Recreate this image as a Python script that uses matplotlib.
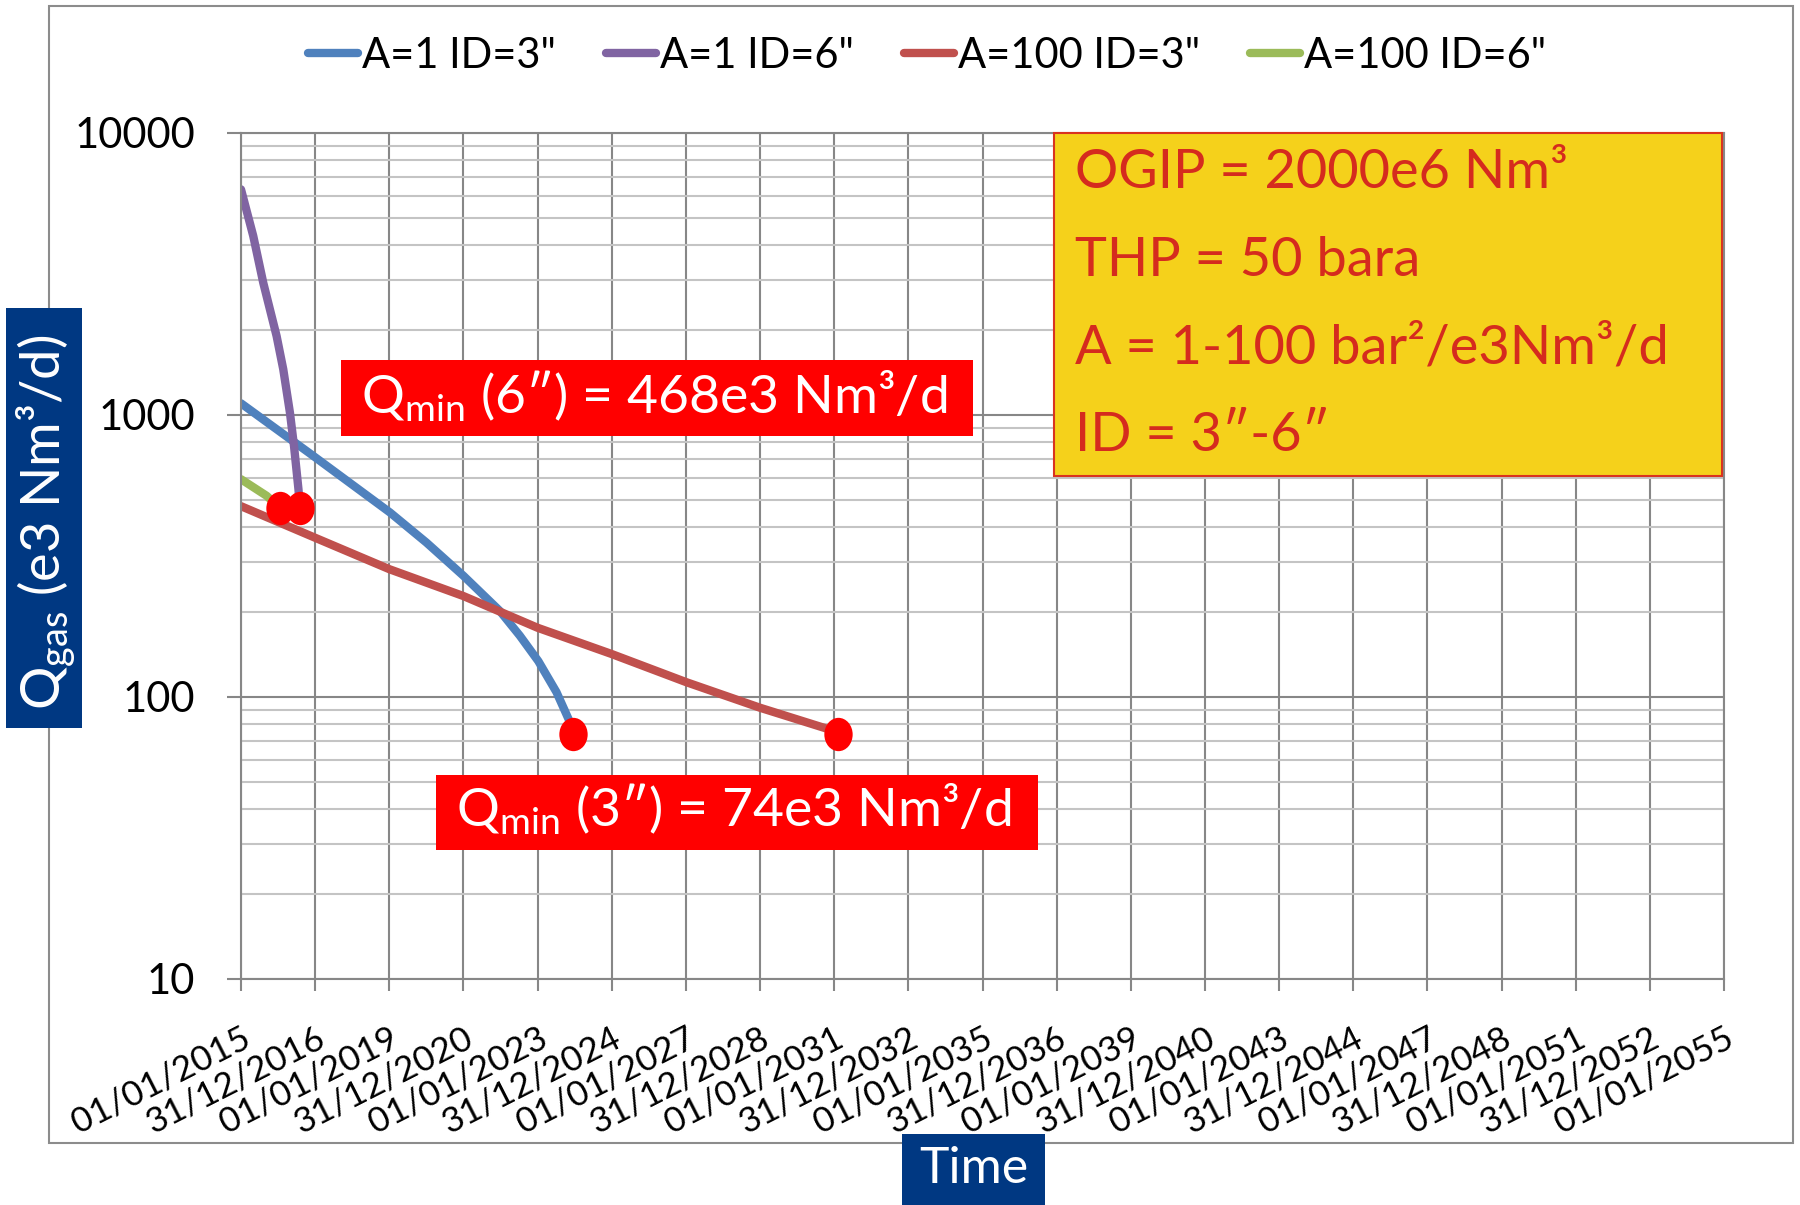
import matplotlib
matplotlib.use('Agg')
import matplotlib.pyplot as plt
from matplotlib.patches import Rectangle
from matplotlib.markers import MarkerStyle
from matplotlib.transforms import Affine2D
from matplotlib.ticker import NullFormatter
import numpy as np

plt.rcParams['font.family'] = ['Lato', 'DejaVu Sans']
plt.rcParams['mathtext.fontset'] = 'custom'
plt.rcParams['mathtext.rm'] = 'Lato'
plt.rcParams['mathtext.fallback'] = 'stixsans'

W, H = 1800, 1205

# time in years from 01/01/2015, rate in e3 Nm3/d
a1_id3_t = [0, 1.95, 4.02, 5.0, 6.0, 6.98, 7.52, 8.02, 8.51, 8.88, 8.96]
a1_id3_q = [1100, 716, 451, 353, 269, 202, 165, 134, 104, 81, 77]
a1_id6_t = [0, 0.33, 0.60, 0.96, 1.14, 1.32, 1.43, 1.55, 1.59]
a1_id6_q = [6310, 4315, 2944, 1906, 1452, 1019, 776, 545, 468]
a100_id3_t = [0, 2, 4, 6, 8, 10, 12, 14, 15.9]
a100_id3_q = [475, 367, 284, 228, 176, 142, 113, 91.6, 76.5]
a100_id6_t = [0, 0.69, 1.05]
a100_id6_q = [592, 517, 468]

# minimum rate reached for each tubing size
qmin_t = [1.05, 1.59, 8.96, 16.1]
qmin_q = [468, 468, 74, 74]

series_names = ['A=1 ID=3"', 'A=1 ID=6"', 'A=100 ID=3"', 'A=100 ID=6"']
series_colors = ['#4F81BD', '#8064A2', '#C0504D', '#9BBB59']

xtick_pos = np.arange(0, 41, 2)
xtick_labels = ['01/01/2015', '31/12/2016', '01/01/2019', '31/12/2020',
                '01/01/2023', '31/12/2024', '01/01/2027', '31/12/2028',
                '01/01/2031', '31/12/2032', '01/01/2035', '31/12/2036',
                '01/01/2039', '31/12/2040', '01/01/2043', '31/12/2044',
                '01/01/2047', '31/12/2048', '01/01/2051', '31/12/2052',
                '01/01/2055']
ytick_pos = [10, 100, 1000, 10000]
ytick_labels = ['10', '100', '1000', '10000']

info_lines = ['OGIP = 2000e6 Nm³', 'THP = 50 bara',
              'A = 1-100 bar²/e3Nm³/d', 'ID = 3″-6″']


def fx(px):
    return px / W


def fy(py):
    return 1 - py / H


fig = plt.figure(figsize=(W / 100, H / 100), dpi=100)

# chart area border
fig.patches.append(Rectangle((fx(49), fy(1143)), 1744 / W, 1137 / H,
                             transform=fig.transFigure, fill=False,
                             ec='#8c8c8c', lw=1.5, zorder=0))

ax = fig.add_axes([fx(241), fy(979), (1724 - 241) / W, (979 - 133) / H])
ax.set_yscale('log')
ax.set_xlim(0, 40)
ax.set_ylim(10, 10000)

grid_dark = '#878787'
ax.set_axisbelow(True)
ax.grid(True, which='major', axis='both', color=grid_dark, lw=1.5)
ax.grid(True, which='minor', axis='y', color='#c4c4c4', lw=1.5)
for s in ax.spines.values():
    s.set_color(grid_dark)
    s.set_linewidth(1.5)

lines = []
for t, q, c, name in zip([a1_id3_t, a1_id6_t, a100_id3_t, a100_id6_t],
                         [a1_id3_q, a1_id6_q, a100_id3_q, a100_id6_q],
                         series_colors, series_names):
    ln, = ax.plot(t, q, color=c, lw=6, solid_capstyle='round',
                  solid_joinstyle='round', label=name)
    lines.append(ln)

dot = MarkerStyle('o', transform=Affine2D().scale(0.85, 1.0))
ax.plot(qmin_t, qmin_q, ls='none', marker=dot, ms=24, color='#FF0000',
        mec='none', zorder=5)

ax.set_xticks(xtick_pos)
ax.set_xticklabels(xtick_labels, fontsize=25.5)
ax.set_yticks(ytick_pos)
ax.set_yticklabels(ytick_labels, fontsize=30)
ax.yaxis.set_minor_formatter(NullFormatter())
ax.tick_params(axis='x', which='major', length=8.6, width=1.5,
               color=grid_dark, pad=22)
ax.tick_params(axis='y', which='major', length=10, width=1.5,
               color=grid_dark, pad=23)
ax.tick_params(axis='y', which='minor', length=0)
plt.setp(ax.get_xticklabels(), rotation=27, ha='right', va='top',
         rotation_mode='anchor')

fig.legend(handles=lines, loc='center', bbox_to_anchor=(fx(927), fy(56)),
           ncol=4, frameon=False, fontsize=30, handlelength=1.2,
           handletextpad=0.1, columnspacing=1.2)

# axis title boxes
navy = '#003882'
fig.patches.append(Rectangle((fx(6), fy(728)), 76 / W, 420 / H,
                             transform=fig.transFigure, fc=navy, ec='none',
                             zorder=3))
fig.text(fx(46), fy(522), r'Q$_{\rm gas}$ (e3 Nm³/d)', rotation=90,
         color='white', fontsize=39, ha='center', va='center', zorder=4)
fig.patches.append(Rectangle((fx(902), fy(1205)), 143 / W, 71 / H,
                             transform=fig.transFigure, fc=navy, ec='none',
                             zorder=3))
fig.text(fx(973.5), fy(1169), 'Time', color='white', fontsize=36,
         ha='center', va='center', zorder=4)

# Qmin callouts
fig.patches.append(Rectangle((fx(341), fy(436)), 632 / W, 76 / H,
                             transform=fig.transFigure, fc='#FF0000',
                             ec='none', zorder=3))
fig.text(fx(361), fy(413), r'Q$_{\rm min}$ (6″) = 468e3 Nm³/d',
         color='white', fontsize=38.5, ha='left', va='baseline', zorder=4)
fig.patches.append(Rectangle((fx(436), fy(850)), 602 / W, 75 / H,
                             transform=fig.transFigure, fc='#FF0000',
                             ec='none', zorder=3))
fig.text(fx(456), fy(826), r'Q$_{\rm min}$ (3″) = 74e3 Nm³/d',
         color='white', fontsize=38.5, ha='left', va='baseline', zorder=4)

# input parameters box
fig.patches.append(Rectangle((fx(1054), fy(476)), 668 / W, 343 / H,
                             transform=fig.transFigure, fc='#F5D11B',
                             ec='#D9331F', lw=1.5, zorder=3))
for i, txt in enumerate(info_lines):
    fig.text(fx(1075), fy(188 + 87.7 * i), txt, color='#D52B1E',
             fontsize=39, ha='left', va='baseline', zorder=4)

fig.savefig('out.png', dpi=100)
